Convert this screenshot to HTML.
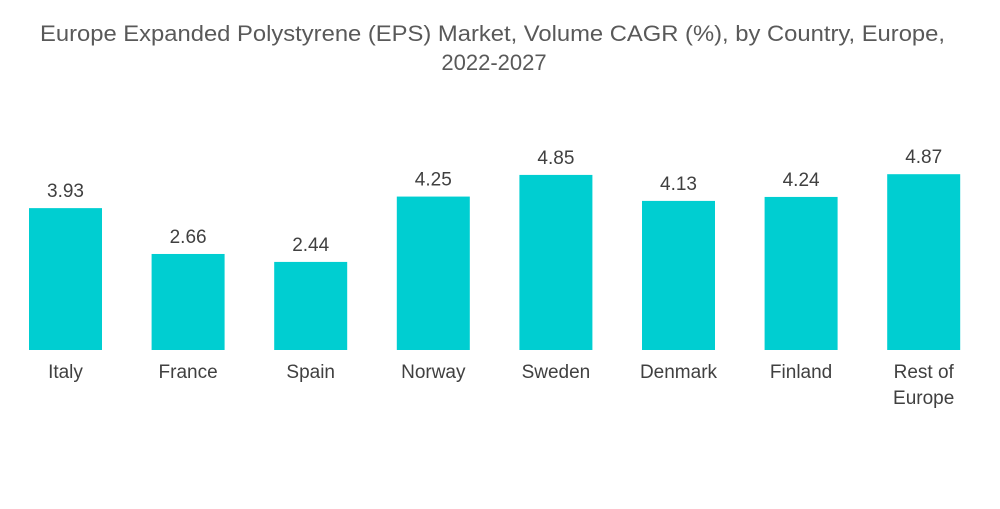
<!DOCTYPE html>
<html><head><meta charset="utf-8"><style>
body{margin:0;background:#fff;width:1000px;height:504px;overflow:hidden;font-family:"Liberation Sans",sans-serif}
</style></head><body>
<svg id="chart" width="1000" height="504" xmlns="http://www.w3.org/2000/svg">
<text x="40" y="41" textLength="905" lengthAdjust="spacingAndGlyphs" font-size="22" fill="#595959">Europe Expanded Polystyrene (EPS) Market, Volume CAGR (%), by Country, Europe,</text>
<text x="494" y="70" text-anchor="middle" font-size="22" fill="#595959">2022-2027</text>
<g id="bars"></g>
</svg>
<script>
const categories=["Italy","France","Spain","Norway","Sweden","Denmark","Finland","Rest of|Europe"];
const values=[3.93,2.66,2.44,4.25,4.85,4.13,4.24,4.87];
const labels=["3.93","2.66","2.44","4.25","4.85","4.13","4.24","4.87"];
const NS="http://www.w3.org/2000/svg";
const g=document.getElementById("bars");
const baseY=350, scale=36.1, x0=29, step=122.6, bw=73;
function xPos(i){return x0+i*step;}
function yPos(v){return baseY-v*scale;}
categories.forEach((c,i)=>{
  const r=document.createElementNS(NS,"rect");
  
  
  r.setAttribute("x",xPos(i));r.setAttribute("y",yPos(values[i]));
  r.setAttribute("width",bw);r.setAttribute("height",baseY-yPos(values[i]));
  r.setAttribute("fill","#00CED1");g.appendChild(r);
  const t=document.createElementNS(NS,"text");
  
  
  t.setAttribute("x",xPos(i)+bw/2);t.setAttribute("y",yPos(values[i])-11);
  t.setAttribute("text-anchor","middle");t.setAttribute("font-size","19");t.setAttribute("fill","#404040");
  t.textContent=labels[i];g.appendChild(t);
  c.split('|').forEach((line,k)=>{
    const l=document.createElementNS(NS,"text");
    
    
    l.setAttribute("x",xPos(i)+bw/2);l.setAttribute("y",378+k*26);
    l.setAttribute("text-anchor","middle");l.setAttribute("font-size","19");l.setAttribute("fill","#404040");
    l.textContent=line;g.appendChild(l);
  });
});
</script>
</body></html>
